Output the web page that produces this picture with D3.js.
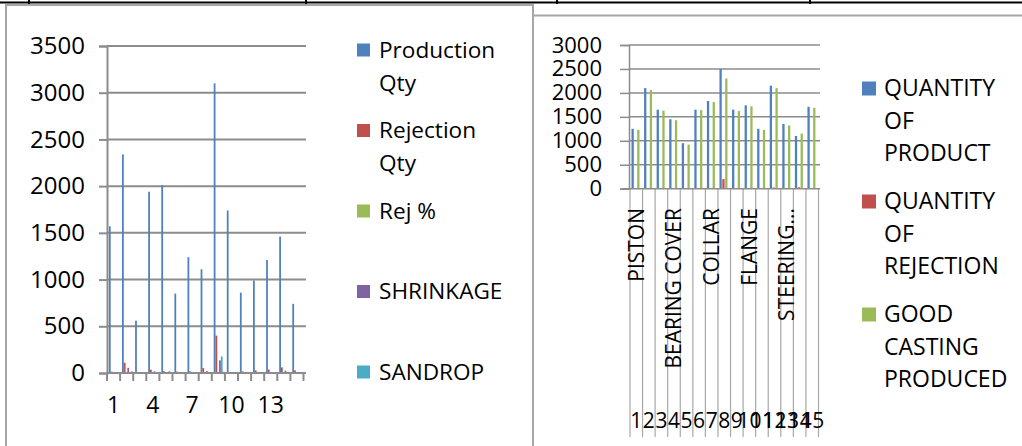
<!DOCTYPE html>
<html>
<head>
<meta charset="utf-8">
<script src="https://cdn.jsdelivr.net/npm/d3@7"></script>
<style>
  body { margin: 0; background: #fff; }
  text { font-family: "Open Sans", sans-serif; fill: #000; }
</style>
</head>
<body>
<div id="chart"></div>
<script>
// Setting up sizes
const width = 1022;
const height = 446;

// Left chart data
const lotNumbers = d3.range(1, 16).map(String);
const productionQty = [1570, 2340, 560, 1940, 2010, 850, 1240, 1110, 3100, 1740, 860, 990, 1210, 1460, 740];
const rejectionQty = [15, 110, 3, 35, 20, 15, 18, 53, 400, 10, 18, 28, 37, 60, 28];
const rejPct = [1.0, 4.7, 0.5, 1.8, 1.0, 1.8, 1.5, 4.8, 12.9, 0.6, 2.1, 2.8, 3.1, 4.1, 3.8];
const shrinkage = [5, 55, 0, 18, 5, 3, 5, 20, 135, 3, 3, 5, 8, 25, 5];
const sandrop = [0, 5, 0, 5, 20, 3, 8, 5, 178, 2, 2, 3, 3, 5, 2];
const otherDefect = [0, 20, 0, 5, 5, 2, 3, 3, 15, 2, 2, 3, 3, 13, 3];
const leftLegendLines = [["Production", "Qty"], ["Rejection", "Qty"], ["Rej %"], ["SHRINKAGE"], ["SANDROP"]];
const leftTicks = [0, 500, 1000, 1500, 2000, 2500, 3000, 3500];
const leftLabelShown = ["1", "4", "7", "10", "13"];

// Right chart data
const productNames = ["PISTON", "", "", "BEARING COVER", "", "", "COLLAR", "", "", "FLANGE", "", "", "STEERING...", "", ""];
const serialNumbers = d3.range(1, 16).map(String);
const qtyProduct = [1250, 2100, 1650, 1450, 950, 1650, 1830, 2500, 1650, 1740, 1250, 2150, 1350, 1100, 1710];
const qtyRejection = [5, 5, 5, 5, 5, 5, 5, 200, 5, 5, 5, 25, 5, 30, 5];
const goodCasting = [1230, 2060, 1630, 1430, 920, 1640, 1810, 2300, 1620, 1720, 1230, 2100, 1320, 1150, 1690];
const rightLegendLines = [["QUANTITY", "OF", "PRODUCT"], ["QUANTITY", "OF", "REJECTION"], ["GOOD", "CASTING", "PRODUCED"]];
const rightTicks = [0, 500, 1000, 1500, 2000, 2500, 3000];

const colors = ["#4F81BD", "#C0504D", "#9BBB59", "#8064A2", "#4BACC6", "#F79646"];
const gridColor = "#8c8c8c";

const svg = d3.select("#chart")
  .append("svg")
  .attr("width", width)
  .attr("height", height);

// Page frame (table border + chart borders)
function drawFrame(){
  svg.append("line")
    .attr("x1", 0).attr("x2", width).attr("y1", 2.5).attr("y2", 2.5)
    .attr("stroke", "#000").attr("stroke-width", 2);
  [29, 306, 557, 810].forEach(x => {
    svg.append("line")
      .attr("x1", x).attr("x2", x).attr("y1", 0).attr("y2", 4)
      .attr("stroke", "#000").attr("stroke-width", 2);
  });
  svg.append("path")
    .attr("d", "M6,460 V5 H533 V460")
    .attr("fill", "none").attr("stroke", "#a6a6a6").attr("stroke-width", 2);
  svg.append("path")
    .attr("d", "M533,460 V15.5 H1030")
    .attr("fill", "none").attr("stroke", "#a6a6a6").attr("stroke-width", 2);
}

// Left chart
function createLeft(){
  const series = [productionQty, rejectionQty, rejPct, shrinkage, sandrop, otherDefect];

  const x0 = d3.scaleBand()
    .domain(lotNumbers)
    .range([107, 303.5]);

  const x1 = d3.scaleBand()
    .domain(d3.range(series.length))
    .range([1.9, x0.bandwidth() - 0.5]);

  const y = d3.scaleLinear()
    .domain([0, 3500])
    .range([373, 46]);

  const g = svg.append("g");

  // Gridlines
  g.selectAll(".grid")
    .data(leftTicks.slice(1))
    .enter()
    .append("line")
    .attr("x1", 107).attr("x2", 306)
    .attr("y1", d => y(d)).attr("y2", d => y(d))
    .attr("stroke", gridColor).attr("stroke-width", 2);

  // Bars
  series.forEach((vals, s) => {
    g.selectAll(".bar" + s)
      .data(vals)
      .enter()
      .append("rect")
      .attr("x", (d, i) => x0(lotNumbers[i]) + x1(s))
      .attr("y", d => y(d))
      .attr("width", x1.bandwidth())
      .attr("height", d => y(0) - y(d))
      .attr("fill", colors[s]);
  });

  // Y axis
  const yAxis = g.append("g")
    .attr("transform", "translate(107,0)")
    .call(d3.axisLeft(y).tickValues(leftTicks).tickFormat(d3.format("d")).tickSize(8).tickPadding(14));
  yAxis.select(".domain").attr("stroke", gridColor).attr("stroke-width", 2);
  yAxis.selectAll(".tick line").attr("stroke", gridColor).attr("stroke-width", 2);
  yAxis.selectAll(".tick text")
    .style("font-family", "Open Sans").attr("font-size", 24).attr("fill", "#000");

  // X axis
  const bounds = lotNumbers.map(d => x0(d)).concat([x0.range()[1]]);
  g.selectAll(".xtick")
    .data(bounds)
    .enter()
    .append("line")
    .attr("x1", d => d).attr("x2", d => d)
    .attr("y1", y(0)).attr("y2", y(0) + 8)
    .attr("stroke", gridColor).attr("stroke-width", 2);
  g.append("line")
    .attr("x1", 107).attr("x2", 306)
    .attr("y1", y(0)).attr("y2", y(0))
    .attr("stroke", gridColor).attr("stroke-width", 2);
  g.selectAll(".xlab")
    .data(leftLabelShown)
    .enter()
    .append("text")
    .attr("x", d => x0(d) + x0.bandwidth() / 2)
    .attr("y", 405)
    .attr("dy", "0.35em")
    .attr("text-anchor", "middle")
    .attr("font-size", 23)
    .text(d => d);

  // Legend
  leftLegendLines.forEach((lines, i) => {
    const cy = 50 + i * 80.5;
    g.append("rect")
      .attr("x", 357).attr("y", cy - 6.5)
      .attr("width", 13).attr("height", 13)
      .attr("fill", colors[i]);
    lines.forEach((t, j) => {
      g.append("text")
        .attr("x", 379).attr("y", cy + j * 33)
        .attr("dy", "0.35em")
        .attr("font-size", 22.6)
        .text(t);
    });
  });
}

// Right chart
function createRight(){
  const series = [qtyProduct, qtyRejection, goodCasting];

  const x0 = d3.scaleBand()
    .domain(serialNumbers)
    .range([630, 818.5]);

  const x1 = d3.scaleBand()
    .domain(d3.range(series.length))
    .range([1.5, x0.bandwidth() - 2.5]);

  const y = d3.scaleLinear()
    .domain([0, 3000])
    .range([188.7, 45]);

  const g = svg.append("g");

  // Gridlines
  g.selectAll(".grid")
    .data(rightTicks.slice(1))
    .enter()
    .append("line")
    .attr("x1", 629).attr("x2", 820)
    .attr("y1", d => y(d)).attr("y2", d => y(d))
    .attr("stroke", gridColor).attr("stroke-width", 1.5);

  // Bars
  series.forEach((vals, s) => {
    g.selectAll(".bar" + s)
      .data(vals)
      .enter()
      .append("rect")
      .attr("x", (d, i) => x0(serialNumbers[i]) + x1(s))
      .attr("y", d => y(d))
      .attr("width", x1.bandwidth() * 0.8)
      .attr("height", d => y(0) - y(d))
      .attr("fill", colors[s]);
  });

  // Y axis
  const yAxis = g.append("g")
    .attr("transform", "translate(629,0)")
    .call(d3.axisLeft(y).tickValues(rightTicks).tickFormat(d3.format("d")).tickSize(9).tickPadding(18));
  yAxis.select(".domain").attr("stroke", gridColor).attr("stroke-width", 1.5);
  yAxis.selectAll(".tick line").attr("stroke", gridColor).attr("stroke-width", 1.5);
  yAxis.selectAll(".tick text")
    .style("font-family", "Open Sans").attr("font-size", 22).attr("fill", "#000");

  // Category separators (multi-level axis)
  const bounds = serialNumbers.map(d => x0(d)).concat([x0.range()[1]]);
  g.selectAll(".xsep")
    .data(bounds)
    .enter()
    .append("line")
    .attr("x1", d => d).attr("x2", d => d)
    .attr("y1", y(0)).attr("y2", 437)
    .attr("stroke", "#a8a8a8").attr("stroke-width", 1.2);
  g.append("line")
    .attr("x1", 622).attr("x2", 820)
    .attr("y1", y(0)).attr("y2", y(0))
    .attr("stroke", gridColor).attr("stroke-width", 1.5);

  // Product names (rotated)
  g.selectAll(".pname")
    .data(productNames)
    .enter()
    .append("text")
    .attr("transform", (d, i) => `translate(${x0(serialNumbers[i]) + x0.bandwidth() / 2},208) rotate(-90)`)
    .attr("dy", "0.35em")
    .attr("text-anchor", "end")
    .attr("font-size", 21)
    .text(d => d);

  // Serial numbers
  g.selectAll(".snum")
    .data(serialNumbers)
    .enter()
    .append("text")
    .attr("x", d => x0(d) + x0.bandwidth() / 2)
    .attr("y", 421)
    .attr("dy", "0.35em")
    .attr("text-anchor", "middle")
    .attr("font-size", 21)
    .text(d => d);

  // Legend
  rightLegendLines.forEach((lines, i) => {
    const cy = 88 + i * 113;
    g.append("rect")
      .attr("x", 862).attr("y", cy - 6.5)
      .attr("width", 14).attr("height", 14)
      .attr("fill", colors[i]);
    lines.forEach((t, j) => {
      g.append("text")
        .attr("x", 884).attr("y", cy + j * 32.5)
        .attr("dy", "0.35em")
        .attr("font-size", 23)
        .text(t);
    });
  });
}

drawFrame();
createLeft();
createRight();
</script>
</body>
</html>
